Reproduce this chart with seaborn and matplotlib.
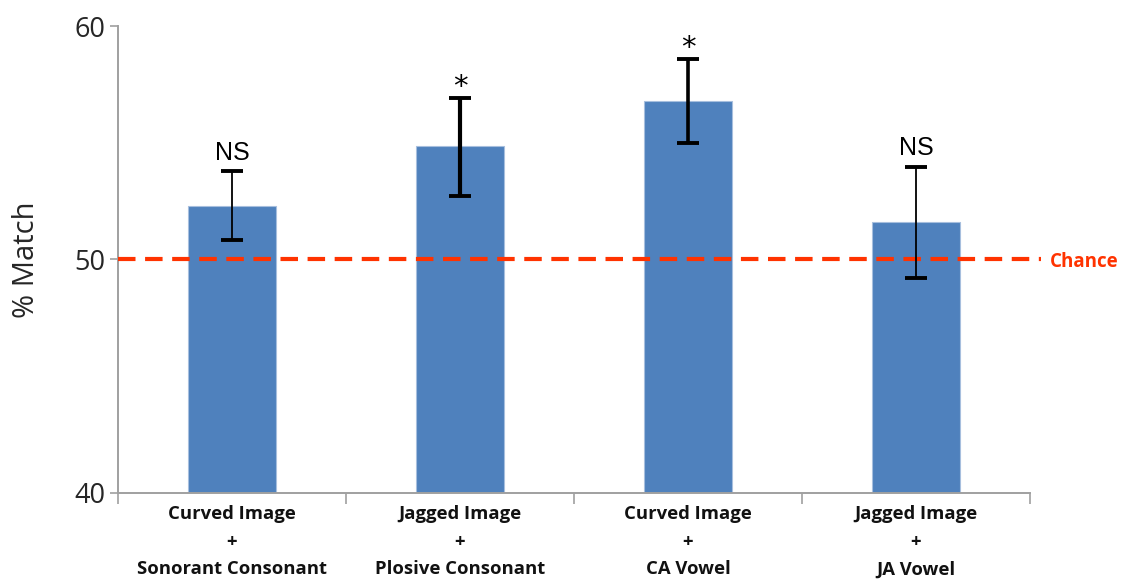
import matplotlib
matplotlib.use("Agg")
import matplotlib.pyplot as plt
import seaborn as sns
import pandas as pd
import numpy as np

# Data
categories = ["Curved Image\n+\nSonorant Consonant",
              "Jagged Image\n+\nPlosive Consonant",
              "Curved Image\n+\nCA Vowel",
              "Jagged Image\n+\nJA Vowel"]
match_pct = [52.3, 54.85, 56.8, 51.6]
err_low = [1.47, 2.15, 1.83, 2.4]
err_high = [1.47, 2.08, 1.78, 2.38]
significance = ["NS", "*", "*", "NS"]
chance_level = 50
y_ticks = [40, 50, 60]

sns.set_theme(style="white")
plt.rcParams["font.family"] = ["Open Sans", "DejaVu Sans"]

fig = plt.figure(figsize=(11.31, 5.83), dpi=100)
ax = fig.add_axes([0.1043, 0.1544, 0.8064, 0.801])

df = pd.DataFrame({"category": categories, "match": match_pct})
sns.barplot(data=df, x="category", y="match", color="#4F81BD",
            width=0.39, edgecolor="#A7BFDE", linewidth=0.8,
            saturation=1, errorbar=None, ax=ax, zorder=2)

# Error bars: the significant conditions are drawn heavier
xpos = np.arange(len(categories))
err_lw = [1.3, 3.0, 2.6, 1.3]
for x, y, lo, hi, lw in zip(xpos, match_pct, err_low, err_high, err_lw):
    ax.errorbar(x, y, yerr=[[lo], [hi]], fmt="none", ecolor="black",
                elinewidth=lw, capsize=8, capthick=2.8, zorder=4)

# Significance markers above the error bars
for x, y, hi, s in zip(xpos, match_pct, err_high, significance):
    if s == "NS":
        ax.text(x, y + hi + 0.48, s, ha="center", va="baseline",
                fontsize=18, color="black",
                family=["Liberation Sans", "DejaVu Sans"])
    else:
        ax.text(x, y + hi + 0.12, s, ha="center", va="baseline",
                fontsize=21, color="black", family=["DejaVu Sans"])

# Chance line
ax.axhline(chance_level, color="#FF3300", linestyle=(0, (4.2, 2.3)),
           linewidth=3, zorder=3, clip_on=False, xmax=1.012)
ax.text(1.022, chance_level - 0.1, "Chance", transform=ax.get_yaxis_transform(),
        color="#FF3300", fontsize=13.5, fontweight="bold",
        va="center", ha="left")

ax.set_ylim(40, 60)
ax.set_xlim(-0.5, len(categories) - 0.5)
ax.set_yticks(y_ticks)
ax.set_yticklabels([str(t) for t in y_ticks], fontsize=19.5, color="#262626")
ax.set_ylabel("% Match", fontsize=21, color="#262626", labelpad=24)
ax.set_xlabel("")

# Category labels centered, tick marks at category boundaries
ax.set_xticks(xpos)
ax.set_xticklabels(categories, fontsize=13.3, fontweight="bold",
                   linespacing=1.7, color="#111111")
ax.set_xticks(np.arange(len(categories) + 1) - 0.5, minor=True)
ax.tick_params(axis="x", which="major", length=0, pad=8.5)
ax.tick_params(axis="x", which="minor", length=8, width=1.2, color="#A0A0A0",
               direction="out", bottom=True)
ax.tick_params(axis="y", which="major", length=6, width=1.2, color="#A0A0A0",
               direction="out", left=True, pad=3)

for side in ["top", "right"]:
    ax.spines[side].set_visible(False)
for side in ["left", "bottom"]:
    ax.spines[side].set_color("#A0A0A0")
    ax.spines[side].set_linewidth(1.4)

fig.savefig("out.png", dpi=100)
